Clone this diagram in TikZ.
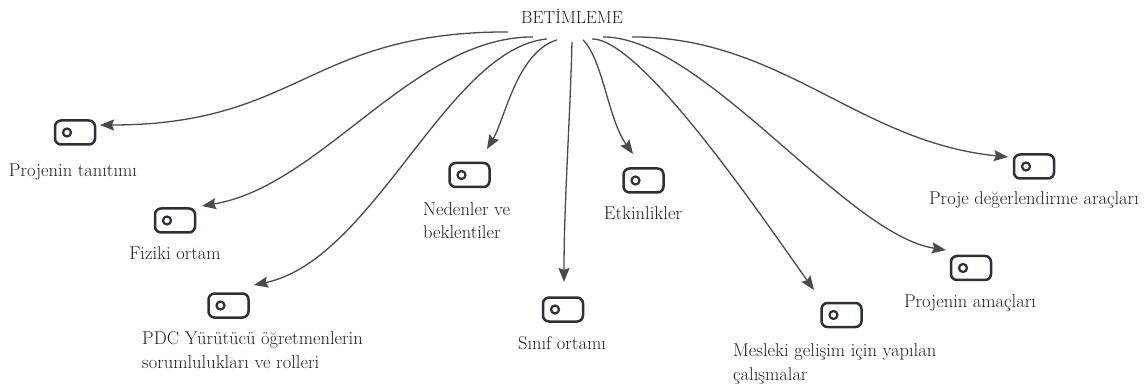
\documentclass[tikz,border=0pt]{standalone}
\usetikzlibrary{arrows.meta}
\definecolor{icongray}{HTML}{2B3137}
\definecolor{linegray}{HTML}{4A4A4A}
\definecolor{textgray}{HTML}{1E1E1E}
\begin{document}
\begin{tikzpicture}[x=1pt,y=-1pt,
  icon/.style={draw=icongray,line width=2.5pt,rounded corners=6pt,minimum width=40pt,minimum height=24pt,inner sep=0pt,
    path picture={\draw [icongray,line width=2.2pt] ([xshift=12pt]path picture bounding box.west) circle [radius=4pt];}},
  lbl/.style={text=textgray,font=\fontsize{18.5}{23.5}\selectfont,inner sep=0pt},
  link/.style={linegray,line width=1.3pt,-{Stealth[length=14pt,width=11pt,inset=2pt]}}]
\useasboundingbox (0,0) rectangle (1148,387);

\node [lbl,font=\fontsize{17.5}{20}\selectfont] (root) at (572,16.5) {BETİMLEME};

% icons
\foreach \n/\x/\y in {1/75/132.5, 2/175/220.5, 3/228.5/305.5, 4/469.5/175, 5/563/309.5,
                      6/643.5/180.5, 7/841.5/315, 8/971/268, 9/1034/166.5}
{
       \node [icon] (i\n) at (\x,\y) {};
}

% labels
\node [lbl,anchor=base] (l1) at (73,177) {Projenin tanıtımı};
\node [lbl,anchor=base] (l2) at (175,260) {Fiziki ortam};
\node [lbl,anchor=base west,align=left] (l3) at (142,368) {PDC Yürütücü öğretmenlerin\\sorumlulukları ve rolleri};
\node [lbl,anchor=base west,align=left] (l4) at (423,239) {Nedenler ve\\beklentiler};
\node [lbl,anchor=base] (l5) at (562,349) {Sınıf ortamı};
\node [lbl,anchor=base] (l6) at (643,220) {Etkinlikler};
\node [lbl,anchor=base west,align=left] (l7) at (733,380) {Mesleki gelişim için yapılan\\çalışmalar};
\node [lbl,anchor=base] (l8) at (970,307) {Projenin amaçları};
\node [lbl,anchor=base] (l9) at (1034,205) {Proje değerlendirme araçları};

% links
\foreach \n/\s/\t/\a/\b in {1/{-64,8}/{25,-7.5}/{-200,0}/{200,0},
                            2/{-39,13}/{27,-14.5}/{-120,0}/{120,-20},
                            3/{-25,15}/{25.5,-20.5}/{-100,10}/{120,-25},
                            4/{-15,16}/{17.5,-26}/{-40,12}/{18,-30},
                            5/{0,18}/{1,-27.5}/{-2,80}/{0,-80},
                            6/{11,16}/{-10.5,-26.5}/{20,20}/{-25,-35},
                            7/{20,15}/{-27.5,-25}/{50,0}/{-50,-70},
                            8/{31,13}/{-25,-18}/{100,0}/{-100,-15},
                            9/{60,13}/{-26,-9.5}/{150,0}/{-150,-15}}
{
       \draw [link] ([shift={(\s)}]root.south) .. controls +(\a) and +(\b) .. ([shift={(\t)}]i\n.center);
}

\end{tikzpicture}
\end{document}
